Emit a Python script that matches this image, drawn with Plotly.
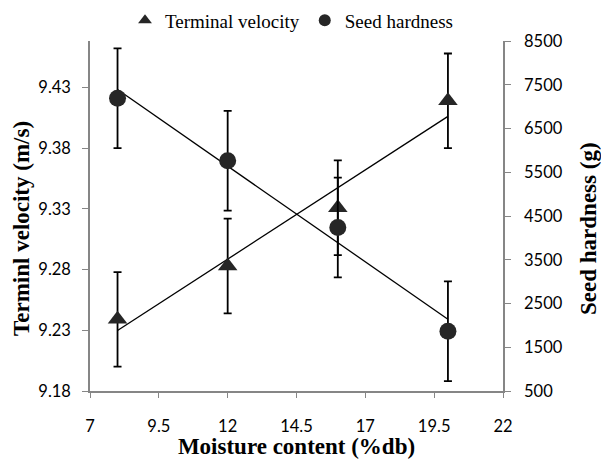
import numpy as np
import plotly.graph_objects as go

moisture = [8, 12, 16, 20]
terminal_velocity = [9.239, 9.283, 9.331, 9.419]
terminal_velocity_err = [0.039, 0.039, 0.039, 0.039]
seed_hardness = [7191, 5763, 4239, 1866]
seed_hardness_err = [1140, 1140, 1140, 1140]

x_ticks = [7, 9.5, 12, 14.5, 17, 19.5, 22]
tv_ticks = [9.18, 9.23, 9.28, 9.33, 9.38, 9.43]
sh_ticks = [500, 1500, 2500, 3500, 4500, 5500, 6500, 7500, 8500]

mark_col = "#262626"
axis_col = "#868686"
tick_font = dict(family="Lato", size=16.5, color="#000000")
title_font = dict(family="Liberation Serif", size=23, color="#000000")

# linear trend lines
xs = np.array([min(moisture), max(moisture)], dtype=float)
p_tv = np.polyfit(moisture, terminal_velocity, 1)
p_sh = np.polyfit(moisture, seed_hardness, 1)

fig = go.Figure()
fig.add_trace(go.Scatter(x=xs, y=np.polyval(p_tv, xs), mode="lines",
                         line=dict(color="black", width=1.3), showlegend=False,
                         hoverinfo="skip"))
fig.add_trace(go.Scatter(x=xs, y=np.polyval(p_sh, xs), mode="lines", yaxis="y2",
                         line=dict(color="black", width=1.3), showlegend=False,
                         hoverinfo="skip"))
fig.add_trace(go.Scatter(
    x=moisture, y=terminal_velocity, mode="markers", name="Terminal velocity",
    marker=dict(symbol="triangle-up", size=17, color=mark_col),
    error_y=dict(type="data", array=terminal_velocity_err, color="black",
                 thickness=1.8, width=4)))
fig.add_trace(go.Scatter(
    x=moisture, y=seed_hardness, mode="markers", name="Seed hardness", yaxis="y2",
    marker=dict(symbol="circle", size=17, color=mark_col),
    error_y=dict(type="data", array=seed_hardness_err, color="black",
                 thickness=1.8, width=4)))

fig.update_layout(
    width=601, height=459,
    margin=dict(l=90, r=98, t=41, b=68, autoexpand=False),
    paper_bgcolor="white", plot_bgcolor="white",
    legend=dict(orientation="h", x=125 / 601, xanchor="left", xref="container",
                y=0.997, yanchor="top", yref="container",
                font=dict(family="Liberation Serif", size=19, color="black"),
                itemsizing="constant", itemwidth=30, tracegroupgap=0),
    xaxis=dict(range=[7, 22], tickvals=x_ticks, ticktext=[f"{v:g}" for v in x_ticks],
               showgrid=False, zeroline=False, showline=True, linecolor=axis_col,
               linewidth=1.5, ticks="outside", ticklen=5, tickcolor=axis_col,
               tickwidth=1.2, tickfont=tick_font, ticklabelstandoff=14,
               automargin=False,
               title=dict(text="<b>Moisture content (%db)</b>", font=title_font,
                          standoff=0)),
    yaxis=dict(range=[9.18, 9.4683], tickvals=tv_ticks,
               ticktext=[f"{v:.2f}" for v in tv_ticks],
               showgrid=False, zeroline=False, showline=True, linecolor=axis_col,
               linewidth=1.5, ticks="outside", ticklen=6, tickcolor=axis_col,
               tickwidth=1.2, tickfont=tick_font, ticklabelstandoff=8,
               automargin=False),
    yaxis2=dict(range=[500, 8500], tickvals=sh_ticks,
                ticktext=[str(v) for v in sh_ticks], overlaying="y", side="right",
                showgrid=False, zeroline=False, showline=True, linecolor=axis_col,
                linewidth=1.5, ticks="outside", ticklen=6, tickcolor=axis_col,
                tickwidth=1.2, tickfont=tick_font, ticklabelstandoff=10,
                automargin=False),
    annotations=[
        dict(text="<b>Terminl velocity (m/s)</b>", textangle=-90, font=title_font,
             xref="paper", yref="paper", x=(22 - 90) / 413, y=0.463,
             xanchor="center", yanchor="middle", showarrow=False),
        dict(text="<b>Seed hardness (g)</b>", textangle=-90, font=title_font,
             xref="paper", yref="paper", x=(589 - 90) / 413, y=0.463,
             xanchor="center", yanchor="middle", showarrow=False),
    ],
)

fig.write_html("out.html")
